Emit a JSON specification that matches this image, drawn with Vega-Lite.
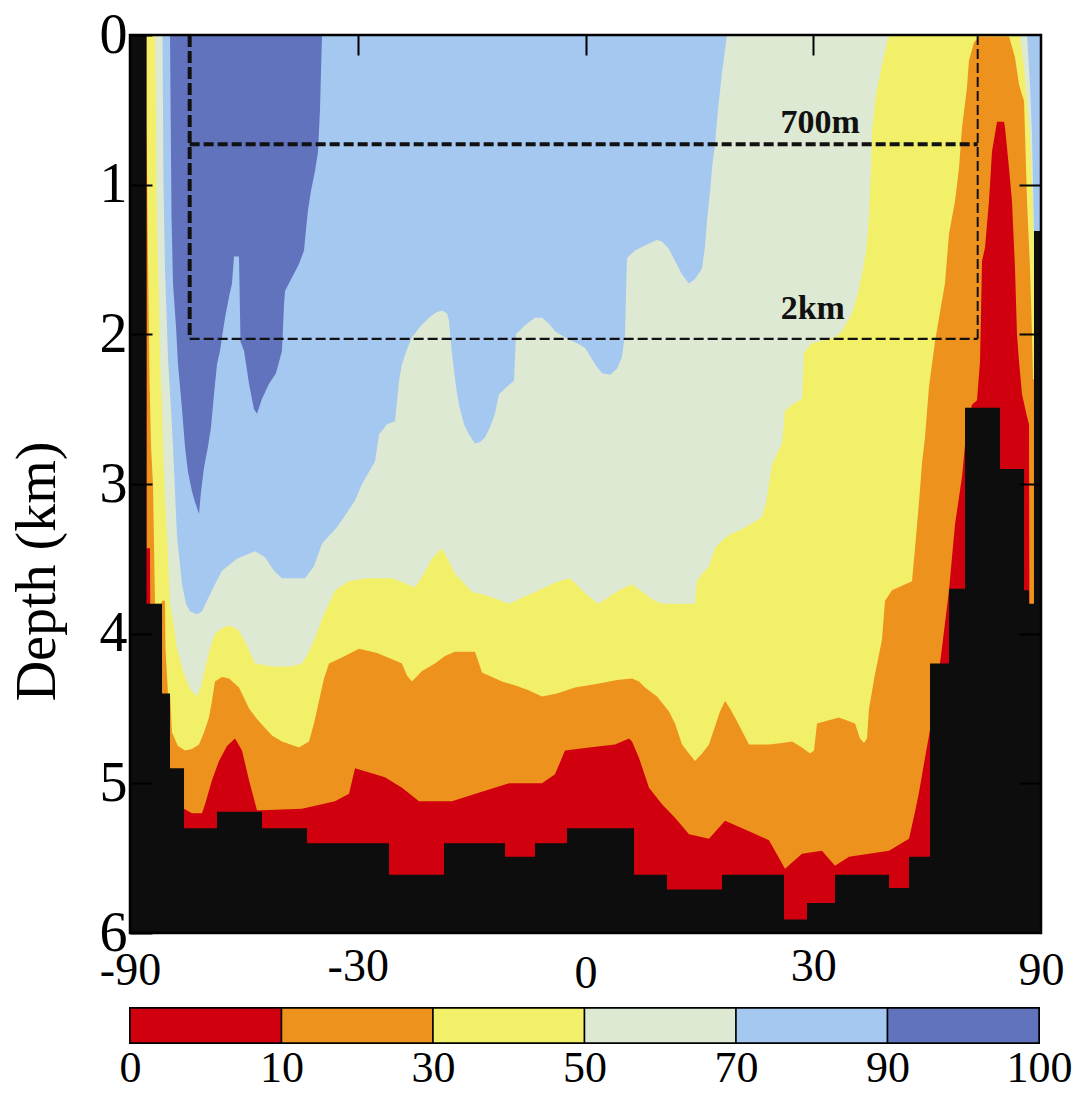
{
  "$schema": "https://vega.github.io/schema/vega-lite/v6.json",
  "background": "white",
  "padding": {"left": 8, "top": 6, "right": 5, "bottom": 0},
  "config": {"view": {"stroke": "#000", "strokeWidth": 2}, "font": "Liberation Serif"},
  "datasets": {
    "b90": [
      {"mu":-0.9166,"depth":0},{"mu":-0.9122,"depth":0},{"mu":-0.9089,"depth":1.2},{"mu":-0.9056,"depth":1.66},
      {"mu":-0.899,"depth":1.95},{"mu":-0.8946,"depth":2.2},{"mu":-0.8902,"depth":2.35},{"mu":-0.8858,"depth":2.5},
      {"mu":-0.8793,"depth":2.75},{"mu":-0.8727,"depth":2.92},{"mu":-0.8639,"depth":3.05},{"mu":-0.8573,"depth":3.12},
      {"mu":-0.8485,"depth":3.2},{"mu":-0.8441,"depth":3.05},{"mu":-0.8375,"depth":2.89},{"mu":-0.8288,"depth":2.75},
      {"mu":-0.8222,"depth":2.62},{"mu":-0.8156,"depth":2.4},{"mu":-0.809,"depth":2.2},{"mu":-0.8024,"depth":2.11},
      {"mu":-0.7914,"depth":1.89},{"mu":-0.7827,"depth":1.75},{"mu":-0.7761,"depth":1.66},{"mu":-0.7717,"depth":1.48},
      {"mu":-0.7607,"depth":1.48},{"mu":-0.7574,"depth":2.05},{"mu":-0.7497,"depth":2.11},{"mu":-0.7387,"depth":2.33},
      {"mu":-0.7278,"depth":2.5},{"mu":-0.7212,"depth":2.53},{"mu":-0.7102,"depth":2.43},{"mu":-0.6948,"depth":2.33},
      {"mu":-0.6795,"depth":2.26},{"mu":-0.6663,"depth":2.11},{"mu":-0.6619,"depth":1.8},{"mu":-0.6597,"depth":1.71},
      {"mu":-0.6444,"depth":1.62},{"mu":-0.629,"depth":1.53},{"mu":-0.618,"depth":1.44},{"mu":-0.6136,"depth":1.3},
      {"mu":-0.6092,"depth":1.17},{"mu":-0.6026,"depth":1.04},{"mu":-0.5939,"depth":0.91},{"mu":-0.5873,"depth":0.78},
      {"mu":-0.5829,"depth":0.5},{"mu":-0.5785,"depth":0}
    ],
    "b70": [
      {"mu":-0.9286,"depth":0},{"mu":-0.9265,"depth":1.0},{"mu":-0.9232,"depth":1.56},{"mu":-0.9166,"depth":2.16},
      {"mu":-0.91,"depth":2.5},{"mu":-0.9056,"depth":2.75},{"mu":-0.8968,"depth":3.35},{"mu":-0.8858,"depth":3.67},
      {"mu":-0.8771,"depth":3.8},{"mu":-0.8683,"depth":3.85},{"mu":-0.8529,"depth":3.87},{"mu":-0.8419,"depth":3.85},
      {"mu":-0.831,"depth":3.78},{"mu":-0.8134,"depth":3.67},{"mu":-0.798,"depth":3.58},{"mu":-0.7651,"depth":3.5},
      {"mu":-0.7256,"depth":3.45},{"mu":-0.7036,"depth":3.49},{"mu":-0.6839,"depth":3.58},{"mu":-0.6663,"depth":3.63},
      {"mu":-0.6158,"depth":3.63},{"mu":-0.5961,"depth":3.55},{"mu":-0.5785,"depth":3.4},{"mu":-0.5434,"depth":3.28},
      {"mu":-0.506,"depth":3.11},{"mu":-0.4907,"depth":3.0},{"mu":-0.4621,"depth":2.85},{"mu":-0.4533,"depth":2.67},
      {"mu":-0.4358,"depth":2.6},{"mu":-0.4182,"depth":2.58},{"mu":-0.4094,"depth":2.31},{"mu":-0.4029,"depth":2.2},
      {"mu":-0.3919,"depth":2.1},{"mu":-0.3809,"depth":2.02},{"mu":-0.3633,"depth":1.95},{"mu":-0.3436,"depth":1.89},
      {"mu":-0.326,"depth":1.85},{"mu":-0.315,"depth":1.84},{"mu":-0.3041,"depth":1.86},{"mu":-0.2997,"depth":1.91},
      {"mu":-0.2931,"depth":2.13},{"mu":-0.2843,"depth":2.35},{"mu":-0.2777,"depth":2.47},{"mu":-0.2667,"depth":2.6},
      {"mu":-0.2558,"depth":2.67},{"mu":-0.2426,"depth":2.73},{"mu":-0.2316,"depth":2.72},{"mu":-0.2206,"depth":2.69},
      {"mu":-0.2097,"depth":2.62},{"mu":-0.1987,"depth":2.53},{"mu":-0.1899,"depth":2.4},{"mu":-0.1723,"depth":2.35},
      {"mu":-0.157,"depth":2.31},{"mu":-0.1526,"depth":2.0},{"mu":-0.1328,"depth":1.94},{"mu":-0.1109,"depth":1.89},
      {"mu":-0.0955,"depth":1.89},{"mu":-0.0801,"depth":1.93},{"mu":-0.067,"depth":1.98},{"mu":-0.0406,"depth":2.03},
      {"mu":-0.0187,"depth":2.06},{"mu":-0.0011,"depth":2.09},{"mu":0.0209,"depth":2.2},{"mu":0.0362,"depth":2.26},
      {"mu":0.0538,"depth":2.27},{"mu":0.0692,"depth":2.23},{"mu":0.0801,"depth":2.15},{"mu":0.0867,"depth":2.0},
      {"mu":0.0911,"depth":1.49},{"mu":0.1087,"depth":1.44},{"mu":0.135,"depth":1.4},{"mu":0.157,"depth":1.37},
      {"mu":0.168,"depth":1.38},{"mu":0.1833,"depth":1.43},{"mu":0.1965,"depth":1.51},{"mu":0.2119,"depth":1.6},
      {"mu":0.2272,"depth":1.66},{"mu":0.2404,"depth":1.63},{"mu":0.2558,"depth":1.56},{"mu":0.2624,"depth":1.41},
      {"mu":0.2667,"depth":1.24},{"mu":0.2733,"depth":1.05},{"mu":0.2777,"depth":0.89},{"mu":0.2843,"depth":0.73},
      {"mu":0.2909,"depth":0.5},{"mu":0.2997,"depth":0.25},{"mu":0.3063,"depth":0.1},{"mu":0.3106,"depth":0},
      {"mu":0.9693,"depth":0},{"mu":0.9759,"depth":0.33},{"mu":0.9802,"depth":0.66},{"mu":0.9846,"depth":1.31},
      {"mu":1,"depth":1.31}
    ],
    "b50": [
      {"mu":-0.9451,"depth":0},{"mu":-0.9429,"depth":0.6},{"mu":-0.9407,"depth":1.26},{"mu":-0.9363,"depth":1.8},
      {"mu":-0.9341,"depth":2.16},{"mu":-0.9297,"depth":2.5},{"mu":-0.9276,"depth":2.75},{"mu":-0.9232,"depth":3.1},
      {"mu":-0.9188,"depth":3.35},{"mu":-0.9122,"depth":3.8},{"mu":-0.9034,"depth":3.95},{"mu":-0.8968,"depth":4.1},
      {"mu":-0.8836,"depth":4.25},{"mu":-0.8683,"depth":4.37},{"mu":-0.8529,"depth":4.42},{"mu":-0.8441,"depth":4.35},
      {"mu":-0.8353,"depth":4.23},{"mu":-0.8244,"depth":4.1},{"mu":-0.8134,"depth":4.0},{"mu":-0.7914,"depth":3.95},
      {"mu":-0.7761,"depth":3.95},{"mu":-0.7607,"depth":3.98},{"mu":-0.7431,"depth":4.08},{"mu":-0.7256,"depth":4.2},
      {"mu":-0.6883,"depth":4.22},{"mu":-0.6444,"depth":4.22},{"mu":-0.6224,"depth":4.2},{"mu":-0.607,"depth":4.12},
      {"mu":-0.5939,"depth":4.03},{"mu":-0.5785,"depth":3.9},{"mu":-0.5631,"depth":3.8},{"mu":-0.5499,"depth":3.71},
      {"mu":-0.5192,"depth":3.65},{"mu":-0.4797,"depth":3.63},{"mu":-0.4468,"depth":3.63},{"mu":-0.4248,"depth":3.63},
      {"mu":-0.3743,"depth":3.69},{"mu":-0.3589,"depth":3.62},{"mu":-0.337,"depth":3.5},{"mu":-0.315,"depth":3.43},
      {"mu":-0.2997,"depth":3.52},{"mu":-0.2865,"depth":3.6},{"mu":-0.2711,"depth":3.65},{"mu":-0.2492,"depth":3.72},
      {"mu":-0.2119,"depth":3.75},{"mu":-0.1679,"depth":3.8},{"mu":-0.1394,"depth":3.76},{"mu":-0.1021,"depth":3.71},
      {"mu":-0.067,"depth":3.66},{"mu":-0.0362,"depth":3.63},{"mu":-0.023,"depth":3.66},{"mu":-0.0077,"depth":3.71},
      {"mu":0.0143,"depth":3.77},{"mu":0.0296,"depth":3.8},{"mu":0.0582,"depth":3.74},{"mu":0.0801,"depth":3.7},
      {"mu":0.1021,"depth":3.67},{"mu":0.124,"depth":3.72},{"mu":0.146,"depth":3.77},{"mu":0.168,"depth":3.8},
      {"mu":0.2404,"depth":3.8},{"mu":0.2448,"depth":3.65},{"mu":0.2558,"depth":3.6},{"mu":0.2711,"depth":3.55},
      {"mu":0.2843,"depth":3.43},{"mu":0.2997,"depth":3.38},{"mu":0.315,"depth":3.34},{"mu":0.3436,"depth":3.3},
      {"mu":0.3721,"depth":3.25},{"mu":0.3875,"depth":3.22},{"mu":0.3963,"depth":3.13},{"mu":0.4029,"depth":3.0},
      {"mu":0.4094,"depth":2.87},{"mu":0.4204,"depth":2.8},{"mu":0.4314,"depth":2.73},{"mu":0.438,"depth":2.51},
      {"mu":0.4534,"depth":2.47},{"mu":0.4753,"depth":2.43},{"mu":0.4797,"depth":2.12},{"mu":0.4973,"depth":2.06},
      {"mu":0.5236,"depth":2.04},{"mu":0.5478,"depth":2.02},{"mu":0.5631,"depth":1.98},{"mu":0.5851,"depth":1.86},
      {"mu":0.5983,"depth":1.72},{"mu":0.607,"depth":1.6},{"mu":0.6158,"depth":1.45},{"mu":0.6224,"depth":1.22},
      {"mu":0.6268,"depth":0.9},{"mu":0.629,"depth":0.66},{"mu":0.6356,"depth":0.44},{"mu":0.6422,"depth":0.33},
      {"mu":0.6509,"depth":0.2},{"mu":0.6597,"depth":0.08},{"mu":0.6663,"depth":0},
      {"mu":0.9539,"depth":0},{"mu":0.9627,"depth":0.22},{"mu":0.9693,"depth":0.44},{"mu":0.9759,"depth":0.7},
      {"mu":0.9802,"depth":1.0},{"mu":0.9846,"depth":1.4},{"mu":1,"depth":1.4}
    ],
    "b30": [
      {"mu":-0.9638,"depth":0.6},{"mu":-0.9605,"depth":1.5},{"mu":-0.9572,"depth":2.3},{"mu":-0.9539,"depth":2.75},
      {"mu":-0.9495,"depth":3.0},{"mu":-0.9473,"depth":3.4},{"mu":-0.9451,"depth":3.8},{"mu":-0.9319,"depth":3.8},
      {"mu":-0.9286,"depth":3.78},{"mu":-0.9232,"depth":3.78},{"mu":-0.9221,"depth":4.1},{"mu":-0.9166,"depth":4.4},
      {"mu":-0.9122,"depth":4.4},{"mu":-0.9078,"depth":4.66},{"mu":-0.8946,"depth":4.75},{"mu":-0.8793,"depth":4.78},
      {"mu":-0.8639,"depth":4.77},{"mu":-0.8485,"depth":4.74},{"mu":-0.8375,"depth":4.66},{"mu":-0.8266,"depth":4.56},
      {"mu":-0.82,"depth":4.45},{"mu":-0.8134,"depth":4.32},{"mu":-0.798,"depth":4.29},{"mu":-0.7827,"depth":4.3},
      {"mu":-0.7607,"depth":4.36},{"mu":-0.7387,"depth":4.5},{"mu":-0.7212,"depth":4.57},{"mu":-0.7036,"depth":4.63},
      {"mu":-0.6883,"depth":4.68},{"mu":-0.6663,"depth":4.72},{"mu":-0.629,"depth":4.76},{"mu":-0.607,"depth":4.72},
      {"mu":-0.5961,"depth":4.6},{"mu":-0.5851,"depth":4.45},{"mu":-0.5741,"depth":4.3},{"mu":-0.5631,"depth":4.2},
      {"mu":-0.5346,"depth":4.16},{"mu":-0.4973,"depth":4.1},{"mu":-0.4577,"depth":4.13},{"mu":-0.4182,"depth":4.18},
      {"mu":-0.4029,"depth":4.2},{"mu":-0.3919,"depth":4.28},{"mu":-0.3809,"depth":4.32},{"mu":-0.3589,"depth":4.25},
      {"mu":-0.3304,"depth":4.2},{"mu":-0.3085,"depth":4.15},{"mu":-0.2865,"depth":4.12},{"mu":-0.2426,"depth":4.12},
      {"mu":-0.2338,"depth":4.2},{"mu":-0.2272,"depth":4.26},{"mu":-0.2053,"depth":4.29},{"mu":-0.1833,"depth":4.32},
      {"mu":-0.1504,"depth":4.35},{"mu":-0.124,"depth":4.38},{"mu":-0.0955,"depth":4.42},{"mu":-0.0626,"depth":4.4},
      {"mu":-0.023,"depth":4.36},{"mu":0.0362,"depth":4.33},{"mu":0.0692,"depth":4.31},{"mu":0.1021,"depth":4.3},
      {"mu":0.1175,"depth":4.32},{"mu":0.1306,"depth":4.36},{"mu":0.157,"depth":4.42},{"mu":0.1833,"depth":4.52},
      {"mu":0.1965,"depth":4.6},{"mu":0.2119,"depth":4.74},{"mu":0.2272,"depth":4.8},{"mu":0.2404,"depth":4.85},
      {"mu":0.2558,"depth":4.8},{"mu":0.2711,"depth":4.74},{"mu":0.2843,"depth":4.62},{"mu":0.2953,"depth":4.52},
      {"mu":0.3063,"depth":4.45},{"mu":0.3172,"depth":4.5},{"mu":0.3282,"depth":4.56},{"mu":0.3436,"depth":4.65},
      {"mu":0.3589,"depth":4.74},{"mu":0.4029,"depth":4.74},{"mu":0.4314,"depth":4.73},{"mu":0.4534,"depth":4.72},
      {"mu":0.4753,"depth":4.76},{"mu":0.4929,"depth":4.8},{"mu":0.5017,"depth":4.78},{"mu":0.5082,"depth":4.6},
      {"mu":0.5565,"depth":4.56},{"mu":0.5917,"depth":4.6},{"mu":0.6026,"depth":4.7},{"mu":0.6114,"depth":4.73},
      {"mu":0.618,"depth":4.7},{"mu":0.6224,"depth":4.5},{"mu":0.6356,"depth":4.27},{"mu":0.6509,"depth":4.04},
      {"mu":0.6575,"depth":3.78},{"mu":0.6729,"depth":3.71},{"mu":0.6949,"depth":3.68},{"mu":0.7168,"depth":3.65},
      {"mu":0.7234,"depth":3.43},{"mu":0.7322,"depth":3.12},{"mu":0.7388,"depth":2.86},{"mu":0.7453,"depth":2.69},
      {"mu":0.7541,"depth":2.35},{"mu":0.7607,"depth":2.2},{"mu":0.7673,"depth":2.05},{"mu":0.7761,"depth":1.89},
      {"mu":0.7892,"depth":1.66},{"mu":0.798,"depth":1.33},{"mu":0.8112,"depth":1.11},{"mu":0.82,"depth":0.89},
      {"mu":0.8266,"depth":0.62},{"mu":0.8375,"depth":0.35},{"mu":0.8419,"depth":0.17},{"mu":0.8529,"depth":0.05},
      {"mu":0.8639,"depth":0.01},{"mu":0.9298,"depth":0.01},{"mu":0.9429,"depth":0.15},{"mu":0.9517,"depth":0.33},
      {"mu":0.9583,"depth":0.4},{"mu":0.9627,"depth":0.44},{"mu":0.9649,"depth":0.66},{"mu":0.9693,"depth":1.11},
      {"mu":0.9759,"depth":1.56},{"mu":0.9802,"depth":2.0},{"mu":0.9824,"depth":2.3},{"mu":1,"depth":2.3}
    ],
    "b10": [
      {"mu":-0.9638,"depth":3.43},{"mu":-0.9561,"depth":3.43},{"mu":-0.9528,"depth":6},{"mu":-0.8836,"depth":6},
      {"mu":-0.8814,"depth":5.17},{"mu":-0.8639,"depth":5.2},{"mu":-0.8419,"depth":5.2},{"mu":-0.8353,"depth":5.14},
      {"mu":-0.82,"depth":4.98},{"mu":-0.8046,"depth":4.85},{"mu":-0.787,"depth":4.75},{"mu":-0.7695,"depth":4.7},
      {"mu":-0.7541,"depth":4.78},{"mu":-0.7387,"depth":4.98},{"mu":-0.7212,"depth":5.18},{"mu":-0.7102,"depth":5.18},
      {"mu":-0.6224,"depth":5.17},{"mu":-0.5499,"depth":5.12},{"mu":-0.5192,"depth":5.07},{"mu":-0.506,"depth":4.9},
      {"mu":-0.4841,"depth":4.92},{"mu":-0.4402,"depth":4.96},{"mu":-0.4029,"depth":5.03},{"mu":-0.3655,"depth":5.12},
      {"mu":-0.2931,"depth":5.12},{"mu":-0.2206,"depth":5.05},{"mu":-0.1679,"depth":5.0},{"mu":-0.0955,"depth":5.0},
      {"mu":-0.067,"depth":4.94},{"mu":-0.045,"depth":4.78},{"mu":0.0077,"depth":4.76},{"mu":0.0648,"depth":4.74},
      {"mu":0.0955,"depth":4.7},{"mu":0.1021,"depth":4.72},{"mu":0.1175,"depth":4.83},{"mu":0.1394,"depth":5.03},
      {"mu":0.168,"depth":5.14},{"mu":0.1965,"depth":5.23},{"mu":0.2272,"depth":5.34},{"mu":0.2711,"depth":5.37},
      {"mu":0.3063,"depth":5.25},{"mu":0.3589,"depth":5.32},{"mu":0.4029,"depth":5.38},{"mu":0.438,"depth":5.57},
      {"mu":0.4753,"depth":5.47},{"mu":0.5192,"depth":5.45},{"mu":0.5478,"depth":5.55},{"mu":0.5785,"depth":5.49},
      {"mu":0.6224,"depth":5.47},{"mu":0.6663,"depth":5.45},{"mu":0.7102,"depth":5.37},{"mu":0.7234,"depth":5.19},
      {"mu":0.7322,"depth":5.06},{"mu":0.7453,"depth":4.83},{"mu":0.7541,"depth":4.68},{"mu":0.7673,"depth":4.45},
      {"mu":0.7827,"depth":4.09},{"mu":0.798,"depth":3.71},{"mu":0.8112,"depth":3.27},{"mu":0.8266,"depth":2.95},
      {"mu":0.8375,"depth":2.6},{"mu":0.8485,"depth":2.47},{"mu":0.8595,"depth":2.44},{"mu":0.8661,"depth":2.18},
      {"mu":0.8705,"depth":1.51},{"mu":0.8771,"depth":1.42},{"mu":0.8858,"depth":1.11},{"mu":0.8924,"depth":0.78},
      {"mu":0.9034,"depth":0.58},{"mu":0.9188,"depth":0.58},{"mu":0.921,"depth":0.62},{"mu":0.9298,"depth":0.89},
      {"mu":0.9363,"depth":1.11},{"mu":0.9429,"depth":1.56},{"mu":0.9473,"depth":2.0},{"mu":0.9517,"depth":2.18},
      {"mu":0.9583,"depth":2.4},{"mu":0.9693,"depth":2.55},{"mu":0.9737,"depth":2.6},{"mu":0.9759,"depth":6},
      {"mu":1,"depth":6}
    ],
    "land": [
      {"mu":-1,"depth":0},{"mu":-0.9638,"depth":3.8},{"mu":-0.9297,"depth":4.4},{"mu":-0.9122,"depth":4.9},
      {"mu":-0.8814,"depth":5.3},{"mu":-0.809,"depth":5.19},{"mu":-0.7102,"depth":5.3},{"mu":-0.6114,"depth":5.4},
      {"mu":-0.4314,"depth":5.61},{"mu":-0.3106,"depth":5.4},{"mu":-0.1767,"depth":5.49},{"mu":-0.1109,"depth":5.4},
      {"mu":-0.0406,"depth":5.3},{"mu":0.1065,"depth":5.61},{"mu":0.1789,"depth":5.71},{"mu":0.2997,"depth":5.61},
      {"mu":0.4358,"depth":5.91},{"mu":0.4863,"depth":5.8},{"mu":0.5478,"depth":5.61},{"mu":0.6663,"depth":5.7},
      {"mu":0.7102,"depth":5.49},{"mu":0.7563,"depth":4.2},{"mu":0.798,"depth":3.7},{"mu":0.8332,"depth":2.49},
      {"mu":0.91,"depth":2.9},{"mu":0.9627,"depth":3.71},{"mu":0.9737,"depth":3.8},{"mu":0.9846,"depth":1.31},
      {"mu":1,"depth":1.31}
    ],
    "bands": [
      {"lo":0,"hi":10,"band":"0-10"},{"lo":10,"hi":30,"band":"10-30"},{"lo":30,"hi":50,"band":"30-50"},
      {"lo":50,"hi":70,"band":"50-70"},{"lo":70,"hi":90,"band":"70-90"},{"lo":90,"hi":100,"band":"90-100"}
    ]
  },
  "vconcat": [
    {
      "width": 911,
      "height": 898,
      "resolve": {"axis": {"x": "independent", "y": "independent"}},
      "layer": [
        {
          "data": {"values": [{}]},
          "mark": {"type": "rect", "fill": "#d0000f"},
          "encoding": {
            "x": {"datum": -1, "type": "quantitative", "scale": {"domain": [-1, 1], "nice": false, "zero": false},
              "axis": {"orient": "bottom", "values": [-1, -0.5, 0, 0.5, 1],
                "labelExpr": "datum.value == -1 ? '-90' : datum.value == -0.5 ? '-30' : datum.value == 0 ? '0' : datum.value == 0.5 ? '30' : '90'",
                "ticks": false, "domain": false, "grid": false, "title": null, "labelFlush": false, "labelOverlap": false,
                "labelFont": "Liberation Serif", "labelFontSize": 46, "labelColor": "#000", "labelBaseline": "top",
                "labelPadding": {"condition": [{"test": "abs(datum.value) == 0.5", "value": 11}, {"test": "datum.value == 0", "value": 18}], "value": 15}}},
            "x2": {"datum": 1},
            "y": {"datum": 0, "type": "quantitative", "scale": {"domain": [0, 6], "reverse": true, "nice": false, "zero": false},
              "axis": {"orient": "left", "values": [0, 1, 2, 3, 4, 5, 6], "format": "d", "ticks": true, "tickSize": -22,
                "tickWidth": 2, "tickColor": "#000", "domain": false, "grid": false, "labelFlush": false, "labelOverlap": false,
                "labelFont": "Liberation Serif", "labelFontSize": 56, "labelColor": "#000", "labelPadding": 25,
                "title": "Depth (km)", "titleFont": "Liberation Serif", "titleFontSize": 56, "titleFontWeight": "normal",
                "titleColor": "#000", "titlePadding": 33, "titleY": 536, "zindex": 1}},
            "y2": {"datum": 6}
          }
        },
        {
          "data": {"name": "b10"},
          "mark": {"type": "area", "color": "#ee921e", "clip": true},
          "encoding": {
            "x": {"field": "mu", "type": "quantitative", "scale": {"domain": [-1, 1], "nice": false, "zero": false},
              "axis": {"orient": "top", "values": [-0.5, 0, 0.5], "labels": false, "tickSize": -20, "tickWidth": 2,
                "tickColor": "#000", "domain": false, "grid": false, "title": null, "zindex": 1}},
            "y": {"field": "depth", "type": "quantitative", "scale": {"domain": [0, 6], "reverse": true, "nice": false, "zero": false},
              "axis": {"orient": "right", "values": [1, 2, 3, 4, 5], "labels": false, "tickSize": -22, "tickWidth": 2,
                "tickColor": "#000", "domain": false, "grid": false, "title": null, "zindex": 1}},
            "y2": {"datum": 0}
          }
        },
        {
          "data": {"name": "b30"},
          "mark": {"type": "area", "color": "#f2ef68", "clip": true},
          "encoding": {
            "x": {"field": "mu", "type": "quantitative", "axis": null},
            "y": {"field": "depth", "type": "quantitative", "axis": null},
            "y2": {"datum": 0}
          }
        },
        {
          "data": {"name": "b50"},
          "mark": {"type": "area", "color": "#dee9d3", "clip": true},
          "encoding": {
            "x": {"field": "mu", "type": "quantitative", "axis": null},
            "y": {"field": "depth", "type": "quantitative", "axis": null},
            "y2": {"datum": 0}
          }
        },
        {
          "data": {"name": "b70"},
          "mark": {"type": "area", "color": "#a5c8f1", "clip": true},
          "encoding": {
            "x": {"field": "mu", "type": "quantitative", "axis": null},
            "y": {"field": "depth", "type": "quantitative", "axis": null},
            "y2": {"datum": 0}
          }
        },
        {
          "data": {"name": "b90"},
          "mark": {"type": "area", "color": "#6173bd", "clip": true},
          "encoding": {
            "x": {"field": "mu", "type": "quantitative", "axis": null},
            "y": {"field": "depth", "type": "quantitative", "axis": null},
            "y2": {"datum": 0}
          }
        },
        {
          "data": {"name": "land"},
          "mark": {"type": "area", "color": "#0d0d0d", "interpolate": "step-after", "clip": true},
          "encoding": {
            "x": {"field": "mu", "type": "quantitative", "axis": null},
            "y": {"field": "depth", "type": "quantitative", "axis": null},
            "y2": {"datum": 6}
          }
        },
        {
          "data": {"values": [{"mu0": -0.869, "mu1": 0.861, "depth": 0.73}]},
          "mark": {"type": "rule", "color": "#111", "strokeWidth": 4, "strokeDash": [10, 4]},
          "encoding": {
            "x": {"field": "mu0", "type": "quantitative", "axis": null},
            "x2": {"field": "mu1"},
            "y": {"field": "depth", "type": "quantitative", "axis": null}
          }
        },
        {
          "data": {"values": [{"mu0": -0.869, "mu1": 0.861, "depth": 2.03}]},
          "mark": {"type": "rule", "color": "#111", "strokeWidth": 2.2, "strokeDash": [10, 4]},
          "encoding": {
            "x": {"field": "mu0", "type": "quantitative", "axis": null},
            "x2": {"field": "mu1"},
            "y": {"field": "depth", "type": "quantitative", "axis": null}
          }
        },
        {
          "data": {"values": [{"mu": -0.869, "top": 0, "bottom": 2.03}]},
          "mark": {"type": "rule", "color": "#111", "strokeWidth": 4, "strokeDash": [12, 4]},
          "encoding": {
            "x": {"field": "mu", "type": "quantitative", "axis": null},
            "y": {"field": "top", "type": "quantitative", "axis": null},
            "y2": {"field": "bottom"}
          }
        },
        {
          "data": {"values": [{"mu": 0.861, "top": 0, "bottom": 2.03}]},
          "mark": {"type": "rule", "color": "#111", "strokeWidth": 2, "strokeDash": [10, 4]},
          "encoding": {
            "x": {"field": "mu", "type": "quantitative", "axis": null},
            "y": {"field": "top", "type": "quantitative", "axis": null},
            "y2": {"field": "bottom"}
          }
        },
        {
          "data": {"values": [{"label": "700m", "mu": 0.515, "depth": 0.655}, {"label": "2km", "mu": 0.499, "depth": 1.9}]},
          "mark": {"type": "text", "font": "Liberation Serif", "fontSize": 34, "fontWeight": "bold", "color": "#111",
            "align": "center", "baseline": "alphabetic"},
          "encoding": {
            "x": {"field": "mu", "type": "quantitative", "axis": null},
            "y": {"field": "depth", "type": "quantitative", "axis": null},
            "text": {"field": "label"}
          }
        },
        {
          "data": {"values": [{}]},
          "mark": {"type": "rect", "fill": null, "fillOpacity": 0, "stroke": "#000", "strokeWidth": 2.5},
          "encoding": {
            "x": {"datum": -1, "type": "quantitative", "axis": null},
            "x2": {"datum": 1},
            "y": {"datum": 0, "type": "quantitative", "axis": null},
            "y2": {"datum": 6}
          }
        }
      ]
    },
    {
      "width": 909,
      "height": 35,
      "data": {"name": "bands"},
      "mark": {"type": "rect", "stroke": "#000", "strokeWidth": 1.5},
      "encoding": {
        "x": {"field": "lo", "type": "quantitative",
          "scale": {"domain": [0, 10, 30, 50, 70, 90, 100], "range": [0, 151.5, 303, 454.5, 606, 757.5, 909], "nice": false, "zero": false},
          "axis": {"values": [0, 10, 30, 50, 70, 90, 100], "ticks": false, "domain": false, "grid": false, "title": null,
            "labelFlush": false, "labelOverlap": false, "labelFont": "Liberation Serif", "labelFontSize": 44,
            "labelColor": "#000", "labelBaseline": "top", "labelPadding": 3}},
        "x2": {"field": "hi"},
        "color": {"field": "band", "type": "nominal",
          "scale": {"domain": ["0-10", "10-30", "30-50", "50-70", "70-90", "90-100"],
            "range": ["#d0000f", "#ee921e", "#f2ef68", "#dee9d3", "#a5c8f1", "#6173bd"]},
          "legend": null}
      }
    }
  ],
  "spacing": 9
}
